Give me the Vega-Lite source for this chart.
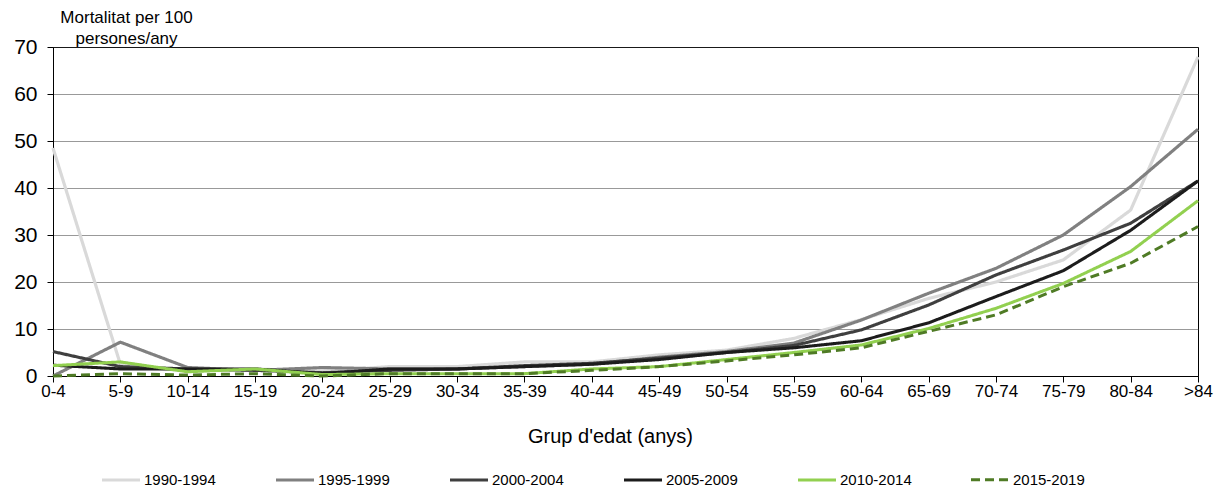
{
  "$schema": "https://vega.github.io/schema/vega-lite/v6.json",
  "autosize": "none",
  "width": 1145,
  "height": 329,
  "padding": {"left": 53, "top": 47, "right": 22, "bottom": 113},
  "background": "white",
  "config": {
    "font": "Liberation Sans",
    "view": {"stroke": "black", "strokeWidth": 1}
  },
  "data": {
    "values": [
      {"grup": "0-4", "periode": "1990-1994", "valor": 48.5},
      {"grup": "5-9", "periode": "1990-1994", "valor": 2.5},
      {"grup": "10-14", "periode": "1990-1994", "valor": 1},
      {"grup": "15-19", "periode": "1990-1994", "valor": 1.5},
      {"grup": "20-24", "periode": "1990-1994", "valor": 1},
      {"grup": "25-29", "periode": "1990-1994", "valor": 2},
      {"grup": "30-34", "periode": "1990-1994", "valor": 2},
      {"grup": "35-39", "periode": "1990-1994", "valor": 3},
      {"grup": "40-44", "periode": "1990-1994", "valor": 3},
      {"grup": "45-49", "periode": "1990-1994", "valor": 4.5},
      {"grup": "50-54", "periode": "1990-1994", "valor": 5.5},
      {"grup": "55-59", "periode": "1990-1994", "valor": 8},
      {"grup": "60-64", "periode": "1990-1994", "valor": 12},
      {"grup": "65-69", "periode": "1990-1994", "valor": 16.5},
      {"grup": "70-74", "periode": "1990-1994", "valor": 20},
      {"grup": "75-79", "periode": "1990-1994", "valor": 24.7},
      {"grup": "80-84", "periode": "1990-1994", "valor": 35.3},
      {"grup": ">84", "periode": "1990-1994", "valor": 67.9},
      {"grup": "0-4", "periode": "1995-1999", "valor": 0},
      {"grup": "5-9", "periode": "1995-1999", "valor": 7.2},
      {"grup": "10-14", "periode": "1995-1999", "valor": 1.8},
      {"grup": "15-19", "periode": "1995-1999", "valor": 1.2},
      {"grup": "20-24", "periode": "1995-1999", "valor": 1.8},
      {"grup": "25-29", "periode": "1995-1999", "valor": 1.5},
      {"grup": "30-34", "periode": "1995-1999", "valor": 1.5},
      {"grup": "35-39", "periode": "1995-1999", "valor": 2},
      {"grup": "40-44", "periode": "1995-1999", "valor": 2.5},
      {"grup": "45-49", "periode": "1995-1999", "valor": 4},
      {"grup": "50-54", "periode": "1995-1999", "valor": 5.2},
      {"grup": "55-59", "periode": "1995-1999", "valor": 7},
      {"grup": "60-64", "periode": "1995-1999", "valor": 11.9},
      {"grup": "65-69", "periode": "1995-1999", "valor": 17.6},
      {"grup": "70-74", "periode": "1995-1999", "valor": 22.9},
      {"grup": "75-79", "periode": "1995-1999", "valor": 30},
      {"grup": "80-84", "periode": "1995-1999", "valor": 40.3},
      {"grup": ">84", "periode": "1995-1999", "valor": 52.5},
      {"grup": "0-4", "periode": "2000-2004", "valor": 5.2},
      {"grup": "5-9", "periode": "2000-2004", "valor": 2},
      {"grup": "10-14", "periode": "2000-2004", "valor": 1.5},
      {"grup": "15-19", "periode": "2000-2004", "valor": 1.2},
      {"grup": "20-24", "periode": "2000-2004", "valor": 0.7},
      {"grup": "25-29", "periode": "2000-2004", "valor": 1.2},
      {"grup": "30-34", "periode": "2000-2004", "valor": 1.5},
      {"grup": "35-39", "periode": "2000-2004", "valor": 2.2},
      {"grup": "40-44", "periode": "2000-2004", "valor": 2.7},
      {"grup": "45-49", "periode": "2000-2004", "valor": 3.8},
      {"grup": "50-54", "periode": "2000-2004", "valor": 5},
      {"grup": "55-59", "periode": "2000-2004", "valor": 6.5},
      {"grup": "60-64", "periode": "2000-2004", "valor": 9.8},
      {"grup": "65-69", "periode": "2000-2004", "valor": 15.1},
      {"grup": "70-74", "periode": "2000-2004", "valor": 21.5},
      {"grup": "75-79", "periode": "2000-2004", "valor": 26.8},
      {"grup": "80-84", "periode": "2000-2004", "valor": 32.5},
      {"grup": ">84", "periode": "2000-2004", "valor": 41.5},
      {"grup": "0-4", "periode": "2005-2009", "valor": 2.3},
      {"grup": "5-9", "periode": "2005-2009", "valor": 1.5},
      {"grup": "10-14", "periode": "2005-2009", "valor": 1.5},
      {"grup": "15-19", "periode": "2005-2009", "valor": 1.5},
      {"grup": "20-24", "periode": "2005-2009", "valor": 0.5},
      {"grup": "25-29", "periode": "2005-2009", "valor": 1.5},
      {"grup": "30-34", "periode": "2005-2009", "valor": 1.5},
      {"grup": "35-39", "periode": "2005-2009", "valor": 2},
      {"grup": "40-44", "periode": "2005-2009", "valor": 2.5},
      {"grup": "45-49", "periode": "2005-2009", "valor": 3.5},
      {"grup": "50-54", "periode": "2005-2009", "valor": 5},
      {"grup": "55-59", "periode": "2005-2009", "valor": 6},
      {"grup": "60-64", "periode": "2005-2009", "valor": 7.5},
      {"grup": "65-69", "periode": "2005-2009", "valor": 11.3},
      {"grup": "70-74", "periode": "2005-2009", "valor": 16.9},
      {"grup": "75-79", "periode": "2005-2009", "valor": 22.4},
      {"grup": "80-84", "periode": "2005-2009", "valor": 31},
      {"grup": ">84", "periode": "2005-2009", "valor": 41.5},
      {"grup": "0-4", "periode": "2010-2014", "valor": 2.2},
      {"grup": "5-9", "periode": "2010-2014", "valor": 3},
      {"grup": "10-14", "periode": "2010-2014", "valor": 0.9},
      {"grup": "15-19", "periode": "2010-2014", "valor": 1.5},
      {"grup": "20-24", "periode": "2010-2014", "valor": 0.3},
      {"grup": "25-29", "periode": "2010-2014", "valor": 0.5},
      {"grup": "30-34", "periode": "2010-2014", "valor": 0.5},
      {"grup": "35-39", "periode": "2010-2014", "valor": 0.5},
      {"grup": "40-44", "periode": "2010-2014", "valor": 1.5},
      {"grup": "45-49", "periode": "2010-2014", "valor": 2},
      {"grup": "50-54", "periode": "2010-2014", "valor": 3.5},
      {"grup": "55-59", "periode": "2010-2014", "valor": 5},
      {"grup": "60-64", "periode": "2010-2014", "valor": 6.6},
      {"grup": "65-69", "periode": "2010-2014", "valor": 10.1},
      {"grup": "70-74", "periode": "2010-2014", "valor": 14.4},
      {"grup": "75-79", "periode": "2010-2014", "valor": 19.7},
      {"grup": "80-84", "periode": "2010-2014", "valor": 26.5},
      {"grup": ">84", "periode": "2010-2014", "valor": 37.3},
      {"grup": "0-4", "periode": "2015-2019", "valor": 0},
      {"grup": "5-9", "periode": "2015-2019", "valor": 0.5},
      {"grup": "10-14", "periode": "2015-2019", "valor": 0.2},
      {"grup": "15-19", "periode": "2015-2019", "valor": 0.5},
      {"grup": "20-24", "periode": "2015-2019", "valor": 0},
      {"grup": "25-29", "periode": "2015-2019", "valor": 0.5},
      {"grup": "30-34", "periode": "2015-2019", "valor": 0.5},
      {"grup": "35-39", "periode": "2015-2019", "valor": 0.5},
      {"grup": "40-44", "periode": "2015-2019", "valor": 1.2},
      {"grup": "45-49", "periode": "2015-2019", "valor": 2},
      {"grup": "50-54", "periode": "2015-2019", "valor": 3.2},
      {"grup": "55-59", "periode": "2015-2019", "valor": 4.5},
      {"grup": "60-64", "periode": "2015-2019", "valor": 6},
      {"grup": "65-69", "periode": "2015-2019", "valor": 9.5},
      {"grup": "70-74", "periode": "2015-2019", "valor": 13},
      {"grup": "75-79", "periode": "2015-2019", "valor": 19},
      {"grup": "80-84", "periode": "2015-2019", "valor": 24},
      {"grup": ">84", "periode": "2015-2019", "valor": 31.8}
    ]
  },
  "mark": {"type": "line", "clip": false},
  "encoding": {
    "x": {
      "field": "grup",
      "type": "ordinal",
      "sort": ["0-4","5-9","10-14","15-19","20-24","25-29","30-34","35-39","40-44","45-49","50-54","55-59","60-64","65-69","70-74","75-79","80-84",">84"],
      "scale": {"type": "point", "padding": 0},
      "axis": {
        "title": "Grup d'edat (anys)",
        "titleFontSize": 20,
        "titleFontWeight": "normal",
        "titleColor": "black",
        "titleBaseline": "alphabetic",
        "titleAlign": "center",
        "titleX": 557,
        "titleY": 66,
        "labelAngle": 0,
        "labelFontSize": 17,
        "labelColor": "black",
        "labelPadding": 1,
        "labelOverlap": false,
        "labelFlush": false,
        "tickColor": "black",
        "tickSize": 6,
        "domainColor": "black",
        "grid": false
      }
    },
    "y": {
      "field": "valor",
      "type": "quantitative",
      "scale": {"domain": [0, 70], "nice": false},
      "axis": {
        "values": [0, 10, 20, 30, 40, 50, 60, 70],
        "title": ["Mortalitat per 100", "persones/any"],
        "titleAngle": 0,
        "titleAlign": "center",
        "titleBaseline": "alphabetic",
        "titleX": 73,
        "titleY": -25,
        "titleLineHeight": 21,
        "titleFontSize": 17,
        "titleFontWeight": "normal",
        "titleColor": "black",
        "labelFontSize": 21,
        "labelColor": "black",
        "labelPadding": 10,
        "tickColor": "black",
        "tickSize": 6,
        "domainColor": "black",
        "grid": true,
        "gridColor": "#333333",
        "gridDash": [1, 1],
        "gridWidth": 1
      }
    },
    "color": {
      "field": "periode",
      "type": "nominal",
      "scale": {
        "domain": ["1990-1994","1995-1999","2000-2004","2005-2009","2010-2014","2015-2019"],
        "range": ["#d9d9d9","#808080","#3f3f3f","#1c1c1c","#92d050","#4f7b25"]
      },
      "legend": {
        "title": null,
        "orient": "none",
        "legendX": 47,
        "legendY": 412,
        "direction": "horizontal",
        "columns": 6,
        "columnPadding": 53,
        "symbolType": "stroke",
        "symbolSize": 1444,
        "symbolStrokeWidth": 3,
        "labelFontSize": 15,
        "labelColor": "black",
        "labelOffset": 2,
        "labelLimit": 120
      }
    },
    "strokeDash": {
      "field": "periode",
      "type": "nominal",
      "scale": {
        "domain": ["1990-1994","1995-1999","2000-2004","2005-2009","2010-2014","2015-2019"],
        "range": [[1,0],[1,0],[1,0],[1,0],[1,0],[9,5]]
      },
      "legend": {
        "title": null,
        "orient": "none",
        "legendX": 47,
        "legendY": 412,
        "direction": "horizontal",
        "columns": 6,
        "columnPadding": 53,
        "symbolType": "stroke",
        "symbolSize": 1444,
        "symbolStrokeWidth": 3,
        "labelFontSize": 15,
        "labelColor": "black",
        "labelOffset": 2,
        "labelLimit": 120
      }
    },
    "strokeWidth": {
      "field": "periode",
      "type": "nominal",
      "scale": {
        "domain": ["1990-1994","1995-1999","2000-2004","2005-2009","2010-2014","2015-2019"],
        "range": [3.2, 3, 3, 3.2, 3.2, 3.8]
      },
      "legend": null
    },
    "order": {"field": "periode"}
  }
}
